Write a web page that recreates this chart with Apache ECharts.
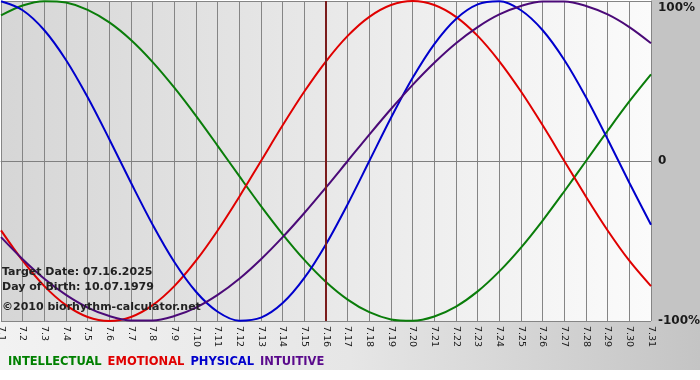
<!DOCTYPE html>
<html>
<head>
<meta charset="utf-8">
<title>Biorhythm</title>
<script src="https://cdn.jsdelivr.net/npm/echarts@6/dist/echarts.min.js"></script>
<style>
  html, body { margin: 0; padding: 0; background: #fff; }
  #chart { width: 700px; height: 380px; }
</style>
</head>
<body>
<div id="chart"></div>
<script>
// days of July 2025
var days = ['7.1', '7.2', '7.3', '7.4', '7.5', '7.6', '7.7', '7.8', '7.9', '7.10',
  '7.11', '7.12', '7.13', '7.14', '7.15', '7.16', '7.17', '7.18', '7.19', '7.20',
  '7.21', '7.22', '7.23', '7.24', '7.25', '7.26', '7.27', '7.28', '7.29', '7.30', '7.31'];

var intellectual = [0.910, 0.972, 0.999, 0.990, 0.945, 0.866, 0.756, 0.618, 0.458, 0.282,
  0.095, -0.095, -0.282, -0.458, -0.618, -0.756, -0.866, -0.945, -0.990, -0.999,
  -0.972, -0.910, -0.815, -0.690, -0.541, -0.372, -0.189, 0, 0.189, 0.372, 0.541];
var emotional = [-0.434, -0.623, -0.782, -0.901, -0.975, -1, -0.975, -0.901, -0.782, -0.623,
  -0.434, -0.223, 0, 0.223, 0.434, 0.623, 0.782, 0.901, 0.975, 1,
  0.975, 0.901, 0.782, 0.623, 0.434, 0.223, 0, -0.223, -0.434, -0.623, -0.782];
var physical = [0.998, 0.942, 0.817, 0.631, 0.398, 0.136, -0.136, -0.398, -0.631, -0.817,
  -0.942, -0.998, -0.979, -0.888, -0.731, -0.520, -0.270, 0, 0.270, 0.520,
  0.731, 0.888, 0.979, 0.998, 0.942, 0.817, 0.631, 0.398, 0.136, -0.136, -0.398];
var intuitive = [-0.476, -0.614, -0.736, -0.837, -0.916, -0.969, -0.997, -0.997, -0.969, -0.916,
  -0.837, -0.736, -0.614, -0.476, -0.325, -0.165, 0, 0.165, 0.325, 0.476,
  0.614, 0.736, 0.837, 0.916, 0.969, 0.997, 0.997, 0.969, 0.916, 0.837, 0.736];

var yTicks = { '-1': '-100%', '0': '0', '1': '100%' };
var targetDay = '7.16';
var infoLines = ['Target Date: 07.16.2025', 'Day of Birth: 10.07.1979', '\u00a92010 biorhythm-calculator.net'];

var chart = echarts.init(document.getElementById('chart'));
var font = 'DejaVu Sans, Verdana, sans-serif';

function line(name, color, data, extra) {
  var s = {
    name: name,
    type: 'line',
    data: data,
    // 1/3 gives catmull-rom like curves for evenly spaced days
    smooth: 0.33,
    symbol: 'none',
    lineStyle: { color: color, width: 2 },
    itemStyle: { color: color },
    silent: true
  };
  return Object.assign(s, extra || {});
}

var options = {
  animation: false,
  backgroundColor: '#ffffff',
  textStyle: { fontFamily: font },
  grid: {
    left: 1,
    right: 49,
    top: 1,
    bottom: 59,
    containLabel: false,
    outerBoundsMode: 'none',
    show: true,
    borderWidth: 0,
    backgroundColor: new echarts.graphic.LinearGradient(0, 0, 1, 0, [
      { offset: 0, color: '#d6d6d6' },
      { offset: 1, color: '#fbfbfb' }
    ])
  },
  legend: {
    left: -2,
    top: 351,
    itemWidth: 0,
    itemHeight: 0,
    itemGap: 1,
    selectedMode: false,
    textStyle: { fontFamily: font, fontSize: 11.5, fontWeight: 'bold' },
    data: [
      { name: 'INTELLECTUAL', icon: 'none', textStyle: { color: '#008000' } },
      { name: 'EMOTIONAL', icon: 'none', textStyle: { color: '#e00000' } },
      { name: 'PHYSICAL', icon: 'none', textStyle: { color: '#0000cc' } },
      { name: 'INTUITIVE', icon: 'none', textStyle: { color: '#5a0a8c' } }
    ]
  },
  xAxis: {
    type: 'category',
    boundaryGap: false,
    data: days,
    axisLine: { lineStyle: { color: '#808080', width: 1 } },
    axisTick: { show: true, length: 3, alignWithLabel: true, lineStyle: { color: '#808080' } },
    axisLabel: {
      interval: 0,
      rotate: -90,
      margin: 5,
      color: '#1a1a1a',
      fontSize: 9.5,
      fontFamily: font
    },
    splitLine: { show: true, lineStyle: { color: '#858585', width: 1 } }
  },
  yAxis: {
    type: 'value',
    position: 'right',
    min: -1,
    max: 1,
    interval: 1,
    axisLine: { show: false },
    axisTick: { show: false },
    splitLine: { show: true, lineStyle: { color: '#858585', width: 1 } },
    axisLabel: {
      margin: 7,
      color: '#1a1a1a',
      fontSize: 12,
      fontWeight: 'bold',
      fontFamily: font,
      formatter: function(v) {
        var txt = yTicks[String(v)];
        return v === 1 ? '{top|' + txt + '}' : txt;
      },
      rich: {
        top: { fontSize: 12, fontWeight: 'bold', fontFamily: font, color: '#1a1a1a', padding: [13, 0, 0, 0] }
      }
    }
  },
  graphic: [
    // bottom band behind the day labels and legend
    {
      type: 'rect', z: -10, silent: true,
      shape: { x: 0, y: 321, width: 700, height: 49 },
      style: {
        fill: new echarts.graphic.LinearGradient(0, 0, 1, 0, [
          { offset: 0, color: '#f2f2f2' },
          { offset: 0.5, color: '#e6e6e6' },
          { offset: 1, color: '#c4c4c4' }
        ])
      }
    },
    // right panel
    {
      type: 'rect', z: -10, silent: true,
      shape: { x: 651, y: 0, width: 49, height: 321 },
      style: { fill: '#c4c4c4' }
    },
    {
      type: 'text', left: 2, top: 267, z: 100, silent: true,
      style: { text: infoLines[0], fill: '#222', font: 'bold 11px ' + font }
    },
    {
      type: 'text', left: 2, top: 282, z: 100, silent: true,
      style: { text: infoLines[1], fill: '#222', font: 'bold 11px ' + font }
    },
    {
      type: 'text', left: 2, top: 302, z: 100, silent: true,
      style: { text: infoLines[2], fill: '#222', font: 'bold 11px ' + font }
    }
  ],
  series: [
    line('INTELLECTUAL', '#0a7d0a', intellectual, {
      markLine: {
        silent: true,
        symbol: 'none',
        label: { show: false },
        lineStyle: { color: '#7a1c1c', width: 2, type: 'solid' },
        data: [{ xAxis: targetDay }]
      }
    }),
    line('EMOTIONAL', '#e00000', emotional),
    line('PHYSICAL', '#0000cc', physical),
    line('INTUITIVE', '#4b0a78', intuitive)
  ]
};

chart.setOption(options);
</script>
</body>
</html>
